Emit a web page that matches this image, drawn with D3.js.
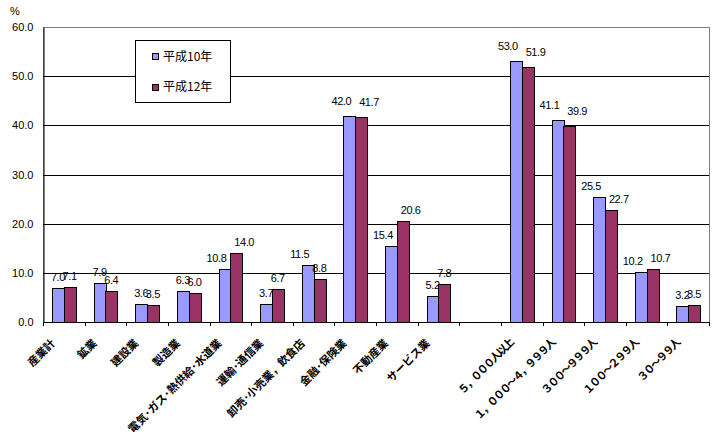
<!DOCTYPE html>
<html><head><meta charset="utf-8">
<script src="https://cdn.jsdelivr.net/npm/d3@7"></script>
<style>html,body{margin:0;padding:0;background:#fff;}</style>
</head><body>
<svg id="chart" width="713" height="441"></svg>
<script>
const categories = ["産業計","鉱業","建設業","製造業","電気･ガス･熱供給･水道業","運輸･通信業","卸売･小売業，飲食店","金融･保険業","不動産業","サービス業","","５，０００人以上","１，０００～４，９９９人","３００～９９９人","１００～２９９人","３０～９９人"];
const seriesNames = ["平成10年","平成12年"];
const h10 = [7.0,7.9,3.6,6.3,10.8,3.7,11.5,42.0,15.4,5.2,null,53.0,41.1,25.5,10.2,3.2];
const h12 = [7.1,6.4,3.5,6.0,14.0,6.7,8.8,41.7,20.6,7.8,null,51.9,39.9,22.7,10.7,3.5];
const yTicks = [0,10,20,30,40,50,60];
const colors = ["#9999FF","#993366"];

const svg = d3.select("#chart");
const L=43, R=709, T=27, B=322;
const x = d3.scaleBand().domain(d3.range(categories.length)).range([L,R]).padding(0);
const xs = d3.scaleBand().domain([0,1]).range([0,x.bandwidth()]).paddingInner(0).paddingOuter(0.78);
const y = d3.scaleLinear().domain([0,60]).range([B,T]);

// plot border
svg.append("rect").attr("x",L+0.5).attr("y",T+0.5).attr("width",R-L).attr("height",B-T)
  .attr("fill","#fff").attr("stroke","#808080").attr("stroke-width",1);

// gridlines
svg.append("g").selectAll("line").data(yTicks.filter(d=>d>0&&d<60)).join("line")
  .attr("x1",L).attr("x2",R).attr("y1",d=>Math.round(y(d))+0.5).attr("y2",d=>Math.round(y(d))+0.5)
  .attr("stroke","#000").attr("stroke-width",1);

// y axis
const yAxis = d3.axisLeft(y).tickValues(yTicks).tickFormat(d3.format(".1f")).tickSize(0).tickPadding(10);
const gy = svg.append("g").attr("transform",`translate(${L+0.5},0)`).call(yAxis);
gy.select(".domain").attr("stroke","#000");
gy.selectAll("text").attr("font-family","Liberation Sans, Arial, sans-serif").attr("font-size",11).attr("fill","#000");

svg.append("text").attr("x",15).attr("y",15).attr("text-anchor","middle")
  .attr("font-family","Liberation Sans, Arial, sans-serif").attr("font-size",11).text("%");

// bars
const series = [h10,h12];
series.forEach((vals,si)=>{
  const g = svg.append("g");
  const data = vals.map((v,i)=>({i,v})).filter(d=>d.v!=null);
  g.selectAll("rect").data(data).join("rect")
    .attr("x",d=>Math.round(x(d.i)+xs(si))+0.5)
    .attr("y",d=>Math.round(y(d.v))+0.5)
    .attr("width",Math.round(xs.bandwidth()))
    .attr("height",d=>B-Math.round(y(d.v)))
    .attr("fill",colors[si]).attr("stroke","#000").attr("stroke-width",1);
  const dir = si===0 ? -1 : 1;
  g.selectAll("text").data(data).join("text")
    .attr("x",d=>x(d.i)+xs(si)+xs.bandwidth()/2 + (d.v>=10 ? dir*8 : 0))
    .attr("y",d=>y(d.v)-(d.v>=30 ? 11 : 7))
    .attr("text-anchor","middle")
    .attr("font-family","Liberation Sans, Arial, sans-serif").attr("font-size",11)
    .attr("letter-spacing",-0.4)
    .text(d=>d3.format(".1f")(d.v));
});

// x axis line and ticks
svg.append("line").attr("x1",L).attr("x2",R).attr("y1",B+0.5).attr("y2",B+0.5).attr("stroke","#000");
svg.append("g").selectAll("line").data(d3.range(categories.length+1)).join("line")
  .attr("x1",d=>Math.round(L+d*x.step())+0.5).attr("x2",d=>Math.round(L+d*x.step())+0.5)
  .attr("y1",B).attr("y2",B+4).attr("stroke","#000");

// x labels
svg.append("g").selectAll("text").data(categories.map((c,i)=>({c,i}))).join("text")
  .attr("transform",d=>`translate(${x(d.i)+x.bandwidth()/2-8},${B+22}) rotate(-45)`)
  .attr("text-anchor","end")
  .attr("font-family","Noto Sans CJK JP, sans-serif")
  .attr("font-weight","bold")
  .attr("font-size",11)
  .attr("letter-spacing",d=>d.i>10?-2:0)
  .text(d=>d.c);

// legend
const lg = svg.append("g");
lg.append("rect").attr("x",135.5).attr("y",40.5).attr("width",95).attr("height",62)
  .attr("fill","#fff").attr("stroke","#000");
seriesNames.forEach((n,i)=>{
  lg.append("rect").attr("x",152.5).attr("y",53.5+i*31).attr("width",6).attr("height",6)
    .attr("fill",colors[i]).attr("stroke","#000");
  lg.append("text").attr("x",163).attr("y",61+i*30)
    .attr("font-family","Noto Sans CJK JP, sans-serif").attr("font-size",12).text(n);
});
</script>
</body></html>
